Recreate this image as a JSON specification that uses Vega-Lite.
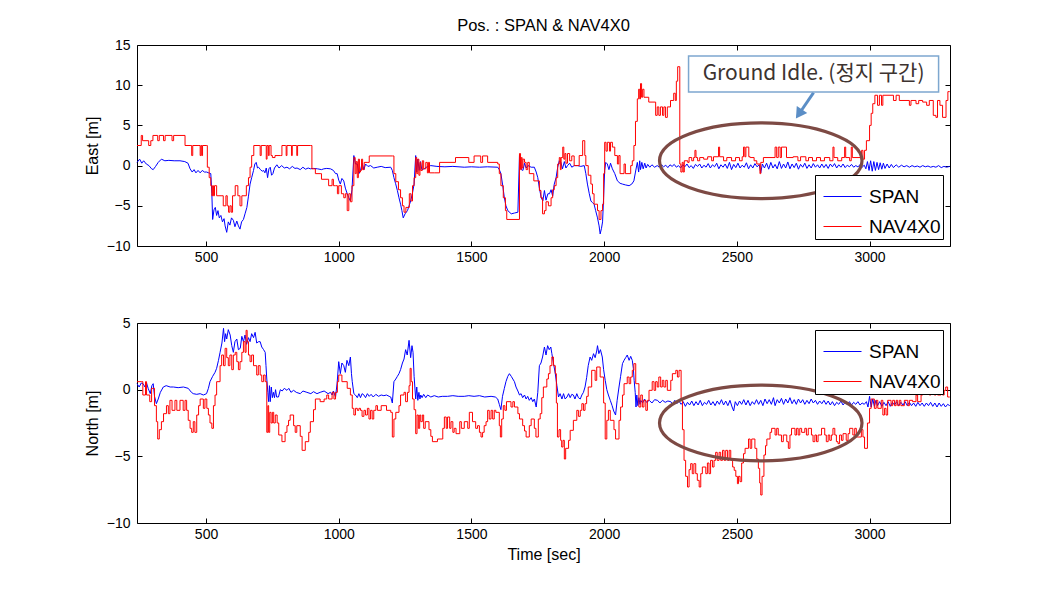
{
"$schema": "https://vega.github.io/schema/vega-lite/v6.json",
"background": "white",
"padding": {"left": 83, "top": 17, "right": 5, "bottom": 5},
"config": {
  "view": {"stroke": "black", "strokeWidth": 1},
  "font": "Liberation Sans",
  "axis": {"grid": false, "domain": false, "tickColor": "black", "tickSize": -5, "labelColor": "black", "labelFontSize": 14, "labelFont": "Liberation Sans", "titleFont": "Liberation Sans", "titleFontSize": 16, "titleFontWeight": "normal", "titleColor": "black", "labelFlush": false, "labelOverlap": false, "format": "d"}
},
"resolve": {"scale": {"color": "independent"}},
"spacing": 50,
"datasets": {
"eastSpan": [
{"t":240,"v":0.4},{"t":250,"v":0.8},{"t":258,"v":0.3},{"t":265,"v":0.6},{"t":275,"v":0.2},{"t":285,"v":0.0},{"t":295,"v":-0.4},{"t":301,"v":-0.5},{"t":310,"v":-0.1},{"t":320,"v":0.4},{"t":332,"v":0.8},{"t":345,"v":0.6},{"t":360,"v":0.65},{"t":380,"v":0.6},{"t":402,"v":0.6},{"t":420,"v":0.5},{"t":432,"v":0.3},{"t":440,"v":-0.4},{"t":448,"v":-0.8},{"t":455,"v":-0.5},{"t":462,"v":-0.9},{"t":470,"v":-0.6},{"t":478,"v":-0.9},{"t":486,"v":-0.6},{"t":494,"v":-0.8},{"t":502,"v":-0.8},{"t":510,"v":-0.9},{"t":518,"v":-1.0},{"t":522,"v":-3.5},{"t":525,"v":-6.7},{"t":530,"v":-5.5},{"t":535,"v":-5.2},{"t":540,"v":-6.2},{"t":545,"v":-5.6},{"t":550,"v":-6.5},{"t":556,"v":-6.2},{"t":562,"v":-7.0},{"t":568,"v":-6.6},{"t":572,"v":-7.5},{"t":578,"v":-8.3},{"t":584,"v":-7.0},{"t":590,"v":-7.4},{"t":596,"v":-6.5},{"t":603,"v":-6.8},{"t":609,"v":-7.6},{"t":616,"v":-6.9},{"t":622,"v":-7.5},{"t":628,"v":-7.9},{"t":634,"v":-7.0},{"t":641,"v":-6.7},{"t":647,"v":-6.0},{"t":654,"v":-5.2},{"t":660,"v":-3.8},{"t":666,"v":-2.3},{"t":672,"v":-1.5},{"t":679,"v":-0.6},{"t":684,"v":0.2},{"t":689,"v":0.4},{"t":694,"v":-0.3},{"t":698,"v":-0.2},{"t":705,"v":-0.5},{"t":712,"v":-0.7},{"t":717,"v":-0.6},{"t":722,"v":-0.9},{"t":727,"v":-0.3},{"t":732,"v":-1.5},{"t":737,"v":-0.4},{"t":742,"v":-0.2},{"t":747,"v":-1.2},{"t":752,"v":-1.0},{"t":758,"v":-0.3},{"t":767,"v":0.1},{"t":775,"v":-0.3},{"t":785,"v":0.0},{"t":795,"v":-0.3},{"t":805,"v":-0.2},{"t":815,"v":-0.4},{"t":825,"v":-0.1},{"t":835,"v":-0.35},{"t":843,"v":-0.3},{"t":855,"v":-0.5},{"t":865,"v":-0.2},{"t":875,"v":-0.45},{"t":885,"v":-0.3},{"t":893,"v":-0.4},{"t":905,"v":-0.35},{"t":920,"v":-0.4},{"t":935,"v":-0.5},{"t":944,"v":-0.4},{"t":955,"v":-0.35},{"t":969,"v":-0.4},{"t":980,"v":-0.6},{"t":988,"v":-1.0},{"t":994,"v":-1.0},{"t":1000,"v":-1.8},{"t":1006,"v":-2.3},{"t":1012,"v":-1.6},{"t":1019,"v":-1.9},{"t":1025,"v":-2.8},{"t":1032,"v":-3.5},{"t":1038,"v":-4.0},{"t":1044,"v":-4.4},{"t":1050,"v":-3.0},{"t":1057,"v":1.25},{"t":1063,"v":0.2},{"t":1070,"v":0.2},{"t":1076,"v":-1.0},{"t":1082,"v":-0.6},{"t":1088,"v":0.3},{"t":1095,"v":-0.5},{"t":1101,"v":0.2},{"t":1110,"v":-0.1},{"t":1120,"v":0.0},{"t":1132,"v":-0.3},{"t":1145,"v":-0.2},{"t":1160,"v":-0.1},{"t":1175,"v":-0.25},{"t":1196,"v":-0.2},{"t":1202,"v":-0.6},{"t":1208,"v":-1.5},{"t":1214,"v":-2.2},{"t":1221,"v":-3.1},{"t":1227,"v":-4.0},{"t":1233,"v":-4.8},{"t":1238,"v":-5.6},{"t":1243,"v":-6.5},{"t":1250,"v":-6.0},{"t":1259,"v":-5.6},{"t":1265,"v":-5.0},{"t":1271,"v":-4.4},{"t":1278,"v":-3.4},{"t":1284,"v":-2.3},{"t":1290,"v":1.25},{"t":1294,"v":-0.8},{"t":1298,"v":0.8},{"t":1303,"v":-0.6},{"t":1308,"v":0.5},{"t":1313,"v":-0.5},{"t":1322,"v":-0.4},{"t":1335,"v":-0.1},{"t":1347,"v":0.0},{"t":1370,"v":-0.1},{"t":1400,"v":-0.15},{"t":1430,"v":-0.1},{"t":1473,"v":-0.2},{"t":1500,"v":-0.15},{"t":1530,"v":-0.2},{"t":1560,"v":-0.15},{"t":1599,"v":-0.2},{"t":1605,"v":-0.5},{"t":1611,"v":-1.0},{"t":1618,"v":-2.5},{"t":1624,"v":-4.0},{"t":1630,"v":-5.0},{"t":1637,"v":-5.6},{"t":1650,"v":-6.0},{"t":1662,"v":-5.9},{"t":1675,"v":-5.8},{"t":1681,"v":1.25},{"t":1688,"v":-0.5},{"t":1694,"v":-0.6},{"t":1700,"v":0.3},{"t":1706,"v":-0.3},{"t":1713,"v":0.0},{"t":1725,"v":-0.2},{"t":1737,"v":-0.2},{"t":1744,"v":-0.8},{"t":1750,"v":-1.5},{"t":1756,"v":-2.8},{"t":1763,"v":-4.0},{"t":1769,"v":-4.4},{"t":1775,"v":-3.1},{"t":1781,"v":-4.3},{"t":1788,"v":-3.5},{"t":1794,"v":-3.5},{"t":1800,"v":-3.0},{"t":1806,"v":-3.8},{"t":1812,"v":-2.3},{"t":1819,"v":-1.5},{"t":1825,"v":-0.2},{"t":1831,"v":0.6},{"t":1837,"v":0.4},{"t":1843,"v":-0.4},{"t":1850,"v":0.5},{"t":1856,"v":-0.3},{"t":1862,"v":0.0},{"t":1870,"v":0.3},{"t":1878,"v":-0.2},{"t":1887,"v":0.0},{"t":1900,"v":0.0},{"t":1912,"v":-0.1},{"t":1925,"v":0.0},{"t":1931,"v":-1.0},{"t":1937,"v":-2.3},{"t":1944,"v":-3.5},{"t":1950,"v":-4.4},{"t":1956,"v":-4.6},{"t":1962,"v":-4.8},{"t":1968,"v":-5.6},{"t":1975,"v":-6.5},{"t":1981,"v":-7.5},{"t":1985,"v":-8.5},{"t":1990,"v":-7.8},{"t":1994,"v":-7.0},{"t":1998,"v":-4.0},{"t":2002,"v":-0.6},{"t":2006,"v":0.4},{"t":2012,"v":0.2},{"t":2018,"v":-0.5},{"t":2024,"v":0.3},{"t":2031,"v":-0.4},{"t":2040,"v":-1.0},{"t":2050,"v":-1.9},{"t":2060,"v":-2.2},{"t":2069,"v":-2.3},{"t":2080,"v":-2.4},{"t":2094,"v":-2.5},{"t":2104,"v":-2.3},{"t":2112,"v":-1.9},{"t":2118,"v":-0.8},{"t":2125,"v":0.4},{"t":2130,"v":-0.8},{"t":2134,"v":0.6},{"t":2137,"v":-0.5},{"t":2142,"v":0.4},{"t":2147,"v":-0.4},{"t":2153,"v":0.3},{"t":2158,"v":-0.3},{"t":2164,"v":0.15},{"t":2172,"v":-0.2},{"t":2180,"v":0.1},{"t":2190,"v":-0.2},
{"t":2200,"v":0.0},{"t":2208,"v":-0.2},{"t":2216,"v":0.1},{"t":2224,"v":-0.15},{"t":2232,"v":0.05},{"t":2240,"v":-0.25},{"t":2248,"v":0.1},{"t":2256,"v":-0.1},{"t":2264,"v":0.15},{"t":2272,"v":-0.2},{"t":2280,"v":0.0},{"t":2288,"v":-0.3},{"t":2296,"v":0.1},{"t":2304,"v":-0.15},{"t":2312,"v":0.2},{"t":2320,"v":-0.25},{"t":2328,"v":0.0},{"t":2336,"v":-0.35},{"t":2344,"v":0.15},{"t":2352,"v":-0.1},{"t":2360,"v":0.2},{"t":2368,"v":-0.3},{"t":2376,"v":0.05},{"t":2384,"v":-0.2},{"t":2392,"v":0.25},{"t":2400,"v":-0.3},{"t":2408,"v":0.1},{"t":2416,"v":-0.15},{"t":2424,"v":0.3},{"t":2432,"v":-0.4},{"t":2440,"v":0.1},{"t":2448,"v":-0.2},{"t":2456,"v":0.2},{"t":2464,"v":-0.35},{"t":2472,"v":0.4},{"t":2480,"v":-0.5},{"t":2488,"v":0.15},{"t":2496,"v":-0.25},{"t":2504,"v":0.3},{"t":2512,"v":-0.3},{"t":2520,"v":0.05},{"t":2528,"v":-0.2},{"t":2536,"v":0.35},{"t":2544,"v":-0.4},{"t":2552,"v":0.1},{"t":2560,"v":-0.3},{"t":2568,"v":0.25},{"t":2576,"v":-0.15},{"t":2584,"v":0.1},{"t":2590,"v":-0.9},{"t":2596,"v":0.2},{"t":2604,"v":-0.3},{"t":2612,"v":0.3},{"t":2620,"v":-0.45},{"t":2628,"v":0.4},{"t":2636,"v":-0.3},{"t":2644,"v":0.15},{"t":2652,"v":-0.4},{"t":2660,"v":0.5},{"t":2668,"v":-0.35},{"t":2676,"v":0.2},{"t":2684,"v":-0.3},{"t":2692,"v":0.45},{"t":2700,"v":-0.4},{"t":2708,"v":0.2},{"t":2716,"v":-0.25},{"t":2724,"v":0.3},{"t":2732,"v":-0.45},{"t":2740,"v":0.15},{"t":2748,"v":-0.2},{"t":2756,"v":0.3},{"t":2764,"v":-0.35},{"t":2772,"v":0.1},{"t":2780,"v":-0.3},{"t":2788,"v":0.25},{"t":2796,"v":-0.2},{"t":2804,"v":0.1},{"t":2812,"v":-0.3},{"t":2820,"v":0.2},{"t":2828,"v":-0.25},{"t":2836,"v":0.15},{"t":2844,"v":-0.35},{"t":2852,"v":0.2},{"t":2860,"v":-0.15},{"t":2868,"v":0.25},{"t":2876,"v":-0.3},{"t":2884,"v":0.1},{"t":2892,"v":-0.2},{"t":2900,"v":0.2},{"t":2908,"v":-0.25},{"t":2916,"v":0.05},{"t":2924,"v":-0.15},{"t":2932,"v":0.15},{"t":2940,"v":-0.2},{"t":2948,"v":0.0},{"t":2956,"v":-0.15},{"t":2964,"v":0.1},{"t":2972,"v":-0.2},{"t":2980,"v":0.05},{"t":2986,"v":-0.4},{"t":2992,"v":0.5},{"t":2998,"v":-0.6},{"t":3004,"v":0.6},{"t":3010,"v":-0.7},{"t":3016,"v":0.5},{"t":3022,"v":-0.6},{"t":3028,"v":0.4},{"t":3034,"v":-0.5},{"t":3040,"v":0.35},{"t":3046,"v":-0.45},{"t":3052,"v":0.3},{"t":3058,"v":-0.35},{"t":3066,"v":0.2},{"t":3074,"v":-0.3},{"t":3082,"v":0.15},{"t":3090,"v":-0.25},{"t":3100,"v":0.1},{"t":3110,"v":-0.2},{"t":3120,"v":0.05},{"t":3130,"v":-0.15},{"t":3140,"v":0.0},{"t":3150,"v":-0.2},{"t":3160,"v":0.0},{"t":3170,"v":-0.15},{"t":3180,"v":-0.05},{"t":3190,"v":-0.2},{"t":3200,"v":0.0},{"t":3210,"v":-0.15},{"t":3220,"v":-0.05},{"t":3230,"v":-0.2},{"t":3240,"v":-0.1},{"t":3250,"v":-0.2},{"t":3260,"v":0.0},{"t":3270,"v":-0.25},{"t":3280,"v":-0.1},{"t":3290,"v":-0.2},{"t":3302,"v":-0.1}
],
"eastNav": [
{"t":240,"v":2.5},{"t":256,"v":3.75},{"t":261,"v":3.1},{"t":284,"v":2.5},{"t":292,"v":3.1},{"t":300,"v":3.75},{"t":318,"v":3.1},{"t":324,"v":3.75},{"t":340,"v":3.1},{"t":346,"v":3.75},{"t":372,"v":3.1},{"t":378,"v":3.75},{"t":421,"v":2.5},{"t":440,"v":2.5},{"t":446,"v":1.25},{"t":450,"v":2.5},{"t":470,"v":2.5},{"t":478,"v":1.25},{"t":481,"v":2.5},{"t":484,"v":1.25},{"t":487,"v":2.5},{"t":503,"v":2.5},{"t":505,"v":-0.2},{"t":512,"v":-1.5},{"t":518,"v":-2.5},{"t":522,"v":-3.75},{"t":525,"v":-2.5},{"t":528,"v":-3.75},{"t":532,"v":-2.5},{"t":540,"v":-3.75},{"t":560,"v":-3.75},{"t":565,"v":-5.0},{"t":575,"v":-3.75},{"t":580,"v":-5.0},{"t":585,"v":-5.8},{"t":590,"v":-5.0},{"t":595,"v":-5.8},{"t":600,"v":-3.75},{"t":610,"v":-2.5},{"t":620,"v":-3.75},{"t":628,"v":-5.0},{"t":635,"v":-3.75},{"t":647,"v":-3.75},{"t":652,"v":-2.5},{"t":660,"v":-1.5},{"t":666,"v":-0.2},{"t":672,"v":1.25},{"t":680,"v":2.5},{"t":700,"v":2.5},{"t":704,"v":1.25},{"t":708,"v":2.5},{"t":725,"v":2.5},{"t":727,"v":0.8},{"t":730,"v":2.5},{"t":735,"v":1.25},{"t":738,"v":2.5},{"t":745,"v":1.25},{"t":750,"v":1.0},{"t":760,"v":1.25},{"t":780,"v":1.25},{"t":786,"v":2.5},{"t":800,"v":2.5},{"t":802,"v":1.25},{"t":805,"v":2.5},{"t":820,"v":2.5},{"t":822,"v":1.25},{"t":825,"v":2.5},{"t":840,"v":2.5},{"t":842,"v":1.25},{"t":845,"v":2.5},{"t":893,"v":2.5},{"t":899,"v":-0.4},{"t":912,"v":-1.0},{"t":930,"v":-1.0},{"t":935,"v":-1.7},{"t":956,"v":-1.7},{"t":962,"v":-2.5},{"t":975,"v":-1.7},{"t":980,"v":-2.5},{"t":988,"v":-2.5},{"t":995,"v":-3.5},{"t":1000,"v":-2.5},{"t":1010,"v":-3.5},{"t":1019,"v":-4.0},{"t":1025,"v":-3.5},{"t":1032,"v":-5.6},{"t":1038,"v":-3.5},{"t":1044,"v":-4.5},{"t":1050,"v":-2.5},{"t":1057,"v":1.0},{"t":1062,"v":-1.0},{"t":1066,"v":0.5},{"t":1070,"v":-1.5},{"t":1074,"v":0.8},{"t":1078,"v":-0.8},{"t":1082,"v":-0.6},{"t":1086,"v":0.8},{"t":1090,"v":-0.5},{"t":1096,"v":0.4},{"t":1107,"v":0.4},{"t":1115,"v":1.2},{"t":1202,"v":1.2},{"t":1208,"v":-1.0},{"t":1215,"v":-2.0},{"t":1225,"v":-3.0},{"t":1233,"v":-4.0},{"t":1240,"v":-5.0},{"t":1246,"v":-5.8},{"t":1253,"v":-5.2},{"t":1266,"v":-3.5},{"t":1272,"v":-4.4},{"t":1278,"v":-2.5},{"t":1284,"v":-1.5},{"t":1290,"v":1.0},{"t":1294,"v":-1.0},{"t":1298,"v":0.8},{"t":1302,"v":-1.2},{"t":1306,"v":0.4},{"t":1309,"v":-0.6},{"t":1315,"v":0.6},{"t":1320,"v":-0.4},{"t":1328,"v":0.4},{"t":1334,"v":-0.9},{"t":1338,"v":0.4},{"t":1342,"v":-0.9},{"t":1360,"v":-0.9},{"t":1380,"v":0.4},{"t":1440,"v":1.0},{"t":1490,"v":0.4},{"t":1510,"v":1.2},{"t":1535,"v":0.4},{"t":1542,"v":1.2},{"t":1561,"v":0.4},{"t":1599,"v":0.2},{"t":1605,"v":-1.0},{"t":1611,"v":-2.5},{"t":1620,"v":-4.0},{"t":1628,"v":-5.6},{"t":1633,"v":-6.7},{"t":1681,"v":1.5},{"t":1685,"v":-0.5},{"t":1688,"v":1.0},{"t":1691,"v":-0.3},{"t":1694,"v":0.8},{"t":1700,"v":0.4},{"t":1706,"v":-0.5},{"t":1712,"v":0.4},{"t":1718,"v":-1.0},{"t":1735,"v":-1.9},{"t":1756,"v":-3.1},{"t":1762,"v":-4.0},{"t":1768,"v":-6.0},{"t":1775,"v":-5.6},{"t":1781,"v":-4.5},{"t":1790,"v":-5.0},{"t":1800,"v":-4.0},{"t":1806,"v":-3.0},{"t":1812,"v":-2.5},{"t":1819,"v":-1.5},{"t":1825,"v":0.2},{"t":1831,"v":1.0},{"t":1835,"v":-0.5},{"t":1838,"v":1.0},{"t":1844,"v":2.3},{"t":1848,"v":0.8},{"t":1852,"v":1.5},{"t":1856,"v":0.3},{"t":1862,"v":1.5},{"t":1870,"v":0.6},{"t":1878,"v":1.2},{"t":1887,"v":0.0},{"t":1906,"v":1.25},{"t":1919,"v":3.1},{"t":1927,"v":1.25},{"t":1931,"v":0.0},{"t":1940,"v":-1.2},{"t":1950,"v":-2.3},{"t":1956,"v":-3.5},{"t":1962,"v":-4.8},{"t":1975,"v":-5.6},{"t":1981,"v":-6.7},{"t":1988,"v":-5.6},{"t":1994,"v":-4.8},{"t":1998,"v":-1.0},{"t":2002,"v":2.9},{"t":2007,"v":1.8},{"t":2012,"v":2.9},{"t":2020,"v":1.8},{"t":2024,"v":2.9},{"t":2031,"v":2.3},{"t":2040,"v":1.25},{"t":2050,"v":0.2},{"t":2055,"v":1.25},{"t":2060,"v":-1.0},{"t":2075,"v":0.2},{"t":2080,"v":-1.0},{"t":2100,"v":0.0},{"t":2106,"v":0.6},{"t":2112,"v":2.5},{"t":2118,"v":5.5},{"t":2125,"v":8.3},{"t":2130,"v":9.5},{"t":2134,"v":8.3},{"t":2137,"v":10.2},{"t":2141,"v":8.5},{"t":2145,"v":9.5},{"t":2150,"v":8.5},{"t":2168,"v":7.9},{"t":2194,"v":6.25},{"t":2200,"v":7.3},{"t":2206,"v":6.25},{"t":2212,"v":7.3},{"t":2220,"v":6.25},{"t":2225,"v":7.3},{"t":2231,"v":6.0},{"t":2238,"v":7.3},{"t":2250,"v":8.1},{"t":2262,"v":9.0},{"t":2268,"v":8.1},{"t":2272,"v":10.5},{"t":2277,"v":12.3},{"t":2285,"v":0.2},{"t":2289,"v":-0.8},{"t":2294,"v":0.4},{"t":2298,"v":-0.8},{"t":2302,"v":0.6},{"t":2315,"v":0.4},{"t":2320,"v":1.0},{"t":2330,"v":0.6},{"t":2337,"v":1.0},{"t":2342,"v":1.9},{"t":2346,"v":1.0},{"t":2352,"v":0.6},{"t":2360,"v":1.0},{"t":2375,"v":0.8},{"t":2390,"v":1.1},{"t":2405,"v":0.6},{"t":2412,"v":1.1},{"t":2431,"v":2.3},{"t":2435,"v":1.1},{"t":2450,"v":0.6},{"t":2462,"v":1.0},{"t":2480,"v":0.6},{"t":2495,"v":1.0},{"t":2510,"v":0.6},{"t":2520,"v":1.1},{"t":2525,"v":2.3},{"t":2530,"v":1.1},{"t":2534,"v":2.3},{"t":2545,"v":1.1},{"t":2550,"v":1.0},{"t":2565,"v":0.6},{"t":2575,"v":0.2},{"t":2587,"v":-1.0},{"t":2590,"v":0.4},{"t":2600,"v":1.0},{"t":2644,"v":2.3},{"t":2650,"v":1.0},{"t":2656,"v":2.3},{"t":2663,"v":1.0},{"t":2668,"v":2.3},{"t":2687,"v":1.0},{"t":2712,"v":1.1},{"t":2730,"v":0.6},{"t":2740,"v":1.1},{"t":2760,"v":0.6},{"t":2770,"v":1.0},{"t":2785,"v":0.6},{"t":2800,"v":1.0},{"t":2815,"v":0.6},{"t":2830,"v":1.0},{"t":2850,"v":0.6},{"t":2862,"v":2.3},{"t":2866,"v":1.0},{"t":2880,"v":0.6},{"t":2895,"v":1.0},{"t":2906,"v":2.3},{"t":2910,"v":1.0},{"t":2925,"v":0.6},{"t":2931,"v":2.3},{"t":2935,"v":1.0},{"t":2970,"v":1.9},{"t":2975,"v":0.8},{"t":2981,"v":1.9},{"t":2988,"v":3.1},{"t":3000,"v":5.0},{"t":3006,"v":6.5},{"t":3012,"v":7.7},{"t":3020,"v":8.75},{"t":3030,"v":7.5},{"t":3037,"v":8.75},{"t":3045,"v":7.5},{"t":3050,"v":8.75},{"t":3090,"v":8.1},{"t":3100,"v":8.75},{"t":3112,"v":8.1},{"t":3150,"v":7.5},{"t":3156,"v":8.1},{"t":3175,"v":7.7},{"t":3185,"v":8.1},{"t":3200,"v":7.9},{"t":3215,"v":7.5},{"t":3225,"v":8.1},{"t":3240,"v":6.25},{"t":3250,"v":6.0},{"t":3256,"v":8.1},{"t":3265,"v":7.5},{"t":3275,"v":6.0},{"t":3288,"v":8.1},{"t":3295,"v":9.2},{"t":3302,"v":9.2}
],
"northSpan": [
{"t":240,"v":0.45},{"t":248,"v":0.2},{"t":256,"v":0.5},{"t":263,"v":0.45},{"t":270,"v":0.2},{"t":276,"v":0.5},{"t":282,"v":0.1},{"t":290,"v":-0.3},{"t":296,"v":0.3},{"t":301,"v":0.45},{"t":306,"v":-0.5},{"t":313,"v":-1.05},{"t":320,"v":-0.7},{"t":328,"v":-0.2},{"t":339,"v":0.2},{"t":350,"v":0.3},{"t":365,"v":0.2},{"t":377,"v":0.2},{"t":395,"v":0.15},{"t":415,"v":0.2},{"t":433,"v":0.1},{"t":445,"v":-0.2},{"t":452,"v":-0.3},{"t":465,"v":-0.35},{"t":478,"v":-0.3},{"t":490,"v":-0.4},{"t":502,"v":-0.3},{"t":509,"v":0.1},{"t":515,"v":0.6},{"t":525,"v":1.0},{"t":534,"v":1.3},{"t":540,"v":1.6},{"t":547,"v":2.2},{"t":553,"v":2.8},{"t":560,"v":3.5},{"t":566,"v":4.6},{"t":570,"v":3.6},{"t":574,"v":4.2},{"t":578,"v":3.8},{"t":584,"v":4.5},{"t":591,"v":4.1},{"t":597,"v":3.3},{"t":603,"v":2.8},{"t":609,"v":3.6},{"t":616,"v":3.8},{"t":622,"v":3.0},{"t":629,"v":3.1},{"t":635,"v":4.0},{"t":641,"v":3.6},{"t":647,"v":4.1},{"t":653,"v":3.4},{"t":660,"v":3.9},{"t":666,"v":3.6},{"t":672,"v":4.2},{"t":679,"v":3.9},{"t":685,"v":4.3},{"t":691,"v":3.5},{"t":698,"v":3.6},{"t":704,"v":3.6},{"t":710,"v":3.2},{"t":717,"v":3.0},{"t":723,"v":2.8},{"t":726,"v":1.8},{"t":729,"v":0.8},{"t":733,"v":-0.2},{"t":736,"v":-0.9},{"t":739,"v":0.3},{"t":742,"v":-0.9},{"t":746,"v":0.2},{"t":750,"v":-0.6},{"t":754,"v":-0.2},{"t":758,"v":-0.6},{"t":762,"v":0.0},{"t":766,"v":-0.55},{"t":773,"v":-0.55},{"t":780,"v":0.0},{"t":787,"v":-0.1},{"t":795,"v":0.1},{"t":805,"v":-0.05},{"t":812,"v":0.1},{"t":820,"v":-0.2},{"t":830,"v":-0.05},{"t":840,"v":-0.2},{"t":855,"v":-0.3},{"t":865,"v":-0.1},{"t":880,"v":-0.2},{"t":895,"v":-0.3},{"t":905,"v":-0.15},{"t":918,"v":-0.3},{"t":930,"v":-0.2},{"t":945,"v":-0.1},{"t":960,"v":-0.3},{"t":969,"v":-0.2},{"t":975,"v":-0.4},{"t":980,"v":-0.1},{"t":988,"v":-0.55},{"t":994,"v":0.5},{"t":1000,"v":2.1},{"t":1006,"v":1.2},{"t":1012,"v":2.0},{"t":1019,"v":1.8},{"t":1025,"v":1.3},{"t":1031,"v":2.2},{"t":1038,"v":1.8},{"t":1044,"v":2.45},{"t":1048,"v":1.2},{"t":1051,"v":0.6},{"t":1057,"v":-0.3},{"t":1063,"v":-0.4},{"t":1070,"v":-0.6},{"t":1076,"v":-0.3},{"t":1082,"v":-0.6},{"t":1088,"v":-0.3},{"t":1095,"v":-0.4},{"t":1101,"v":-0.6},{"t":1108,"v":-0.3},{"t":1115,"v":-0.5},{"t":1122,"v":-0.35},{"t":1130,"v":-0.55},{"t":1140,"v":-0.35},{"t":1150,"v":-0.5},{"t":1160,"v":-0.4},{"t":1170,"v":-0.45},{"t":1180,"v":-0.4},{"t":1190,"v":-0.5},{"t":1196,"v":-0.55},{"t":1202,"v":-1.0},{"t":1208,"v":0.6},{"t":1215,"v":0.8},{"t":1221,"v":1.0},{"t":1227,"v":1.2},{"t":1233,"v":1.5},{"t":1240,"v":2.0},{"t":1246,"v":2.3},{"t":1252,"v":3.0},{"t":1258,"v":2.6},{"t":1265,"v":3.7},{"t":1271,"v":2.4},{"t":1276,"v":3.3},{"t":1280,"v":2.8},{"t":1284,"v":1.0},{"t":1290,"v":-0.7},{"t":1294,"v":0.2},{"t":1298,"v":-0.8},{"t":1302,"v":-0.2},{"t":1306,"v":-0.7},{"t":1309,"v":-0.4},{"t":1314,"v":-0.6},{"t":1320,"v":-0.35},{"t":1328,"v":-0.6},{"t":1335,"v":-0.4},{"t":1347,"v":-0.55},{"t":1360,"v":-0.45},{"t":1375,"v":-0.55},{"t":1390,"v":-0.5},{"t":1410,"v":-0.5},{"t":1430,"v":-0.45},{"t":1450,"v":-0.5},{"t":1473,"v":-0.5},{"t":1490,"v":-0.45},{"t":1510,"v":-0.5},{"t":1530,"v":-0.45},{"t":1550,"v":-0.55},{"t":1574,"v":-0.5},{"t":1590,"v":-0.55},{"t":1599,"v":-0.7},{"t":1605,"v":-1.1},{"t":1611,"v":-1.5},{"t":1617,"v":-0.5},{"t":1624,"v":0.1},{"t":1630,"v":0.6},{"t":1637,"v":1.0},{"t":1643,"v":1.2},{"t":1650,"v":1.0},{"t":1656,"v":0.8},{"t":1662,"v":0.6},{"t":1668,"v":0.2},{"t":1675,"v":-0.1},{"t":1681,"v":-0.4},{"t":1687,"v":-0.3},{"t":1693,"v":-0.6},{"t":1700,"v":-0.4},{"t":1706,"v":-0.7},{"t":1712,"v":-0.5},{"t":1718,"v":-0.8},{"t":1725,"v":-0.6},{"t":1731,"v":-0.9},{"t":1737,"v":-0.7},{"t":1744,"v":-1.3},{"t":1750,"v":-0.2},{"t":1756,"v":1.8},{"t":1762,"v":2.0},{"t":1768,"v":2.45},{"t":1775,"v":3.2},{"t":1781,"v":2.6},{"t":1787,"v":3.3},{"t":1793,"v":3.0},{"t":1799,"v":3.2},{"t":1803,"v":2.7},{"t":1809,"v":2.0},{"t":1816,"v":1.2},{"t":1822,"v":0.3},{"t":1828,"v":-0.55},{"t":1834,"v":-0.3},{"t":1841,"v":-0.7},{"t":1847,"v":-0.3},{"t":1853,"v":-0.7},{"t":1860,"v":-0.55},{"t":1866,"v":-0.3},{"t":1872,"v":-0.6},{"t":1878,"v":-0.35},{"t":1884,"v":-0.4},{"t":1890,"v":-0.7},{"t":1897,"v":-0.3},{"t":1903,"v":-0.6},{"t":1910,"v":-0.7},{"t":1916,"v":-0.4},{"t":1922,"v":-0.2},{"t":1928,"v":0.2},{"t":1934,"v":0.9},{"t":1940,"v":1.8},{"t":1947,"v":2.45},{"t":1953,"v":2.2},{"t":1960,"v":2.7},{"t":1966,"v":2.4},{"t":1972,"v":2.9},{"t":1975,"v":3.3},{"t":1980,"v":2.7},{"t":1986,"v":3.0},{"t":1993,"v":2.45},{"t":1998,"v":1.5},{"t":2004,"v":0.7},{"t":2010,"v":0.0},{"t":2016,"v":-0.4},{"t":2023,"v":-0.8},{"t":2030,"v":-1.2},{"t":2036,"v":-1.6},{"t":2043,"v":-1.9},{"t":2049,"v":-0.8},{"t":2056,"v":0.2},{"t":2062,"v":1.0},{"t":2069,"v":1.95},{"t":2075,"v":2.2},{"t":2081,"v":2.4},{"t":2087,"v":2.6},{"t":2094,"v":2.2},{"t":2100,"v":2.5},{"t":2106,"v":2.2},{"t":2110,"v":1.6},{"t":2113,"v":0.7},{"t":2117,"v":-0.2},{"t":2120,"v":-1.3},{"t":2123,"v":-0.4},{"t":2127,"v":-1.2},{"t":2131,"v":-0.6},{"t":2135,"v":-1.1},{"t":2138,"v":-0.8},{"t":2145,"v":-1.0},{"t":2152,"v":-0.7},{"t":2160,"v":-0.95},{"t":2170,"v":-0.8},{"t":2180,"v":-1.0},{"t":2190,"v":-0.75},{"t":2201,"v":-0.8},{"t":2210,"v":-1.0},{"t":2220,"v":-0.8},{"t":2230,"v":-0.95},{"t":2240,"v":-0.85},{"t":2251,"v":-0.9},
{"t":2258,"v":-1.1},{"t":2266,"v":-0.8},{"t":2274,"v":-1.05},{"t":2282,"v":-0.85},{"t":2290,"v":-1.1},{"t":2298,"v":-0.9},{"t":2306,"v":-1.25},{"t":2314,"v":-0.95},{"t":2322,"v":-1.15},{"t":2330,"v":-0.85},{"t":2338,"v":-1.2},{"t":2346,"v":-0.9},{"t":2354,"v":-1.15},{"t":2362,"v":-0.8},{"t":2370,"v":-1.2},{"t":2378,"v":-0.95},{"t":2386,"v":-1.1},{"t":2394,"v":-0.8},{"t":2402,"v":-1.15},{"t":2410,"v":-0.9},{"t":2418,"v":-1.2},{"t":2426,"v":-0.85},{"t":2434,"v":-1.1},{"t":2442,"v":-0.75},{"t":2450,"v":-1.15},{"t":2458,"v":-0.85},{"t":2466,"v":-1.2},{"t":2474,"v":-0.8},{"t":2482,"v":-1.3},{"t":2488,"v":-1.6},{"t":2494,"v":-0.9},{"t":2502,"v":-1.2},{"t":2510,"v":-0.85},{"t":2518,"v":-1.1},{"t":2526,"v":-0.75},{"t":2534,"v":-1.15},{"t":2542,"v":-0.8},{"t":2550,"v":-1.2},{"t":2558,"v":-0.9},{"t":2566,"v":-1.1},{"t":2574,"v":-0.75},{"t":2582,"v":-1.1},{"t":2590,"v":-0.8},{"t":2598,"v":-1.2},{"t":2606,"v":-0.7},{"t":2614,"v":-1.05},{"t":2622,"v":-0.75},{"t":2630,"v":-1.1},{"t":2638,"v":-0.6},{"t":2644,"v":-1.2},{"t":2652,"v":-0.75},{"t":2660,"v":-1.0},{"t":2668,"v":-0.65},{"t":2676,"v":-1.1},{"t":2684,"v":-0.7},{"t":2692,"v":-1.0},{"t":2700,"v":-0.6},{"t":2708,"v":-1.05},{"t":2716,"v":-0.75},{"t":2724,"v":-1.1},{"t":2732,"v":-0.7},{"t":2740,"v":-1.0},{"t":2748,"v":-0.75},{"t":2756,"v":-1.1},{"t":2764,"v":-0.8},{"t":2772,"v":-1.05},{"t":2780,"v":-0.7},{"t":2788,"v":-1.0},{"t":2796,"v":-0.8},{"t":2804,"v":-1.1},{"t":2812,"v":-0.85},{"t":2820,"v":-1.05},{"t":2828,"v":-0.8},{"t":2836,"v":-1.1},{"t":2844,"v":-0.85},{"t":2852,"v":-1.15},{"t":2860,"v":-0.9},{"t":2868,"v":-1.2},{"t":2876,"v":-0.95},{"t":2884,"v":-1.1},{"t":2892,"v":-0.85},{"t":2900,"v":-1.15},{"t":2908,"v":-0.95},{"t":2916,"v":-1.1},{"t":2924,"v":-0.9},{"t":2932,"v":-1.15},{"t":2940,"v":-0.95},{"t":2948,"v":-1.1},{"t":2956,"v":-0.9},{"t":2964,"v":-1.15},{"t":2972,"v":-1.0},{"t":2980,"v":-1.1},{"t":2988,"v":-0.9},{"t":2994,"v":-1.3},{"t":3000,"v":-0.5},{"t":3006,"v":-1.3},{"t":3012,"v":-0.7},{"t":3018,"v":-1.25},{"t":3024,"v":-0.8},{"t":3030,"v":-1.2},{"t":3038,"v":-0.9},{"t":3046,"v":-1.25},{"t":3054,"v":-0.95},{"t":3062,"v":-1.2},{"t":3070,"v":-0.9},{"t":3078,"v":-1.25},{"t":3086,"v":-0.95},{"t":3094,"v":-1.15},{"t":3102,"v":-0.9},{"t":3110,"v":-1.2},{"t":3118,"v":-0.95},{"t":3126,"v":-1.15},{"t":3134,"v":-0.9},{"t":3142,"v":-1.2},{"t":3150,"v":-0.95},{"t":3158,"v":-1.2},{"t":3166,"v":-1.0},{"t":3174,"v":-1.25},{"t":3182,"v":-0.95},{"t":3190,"v":-1.2},{"t":3198,"v":-1.0},{"t":3206,"v":-1.25},{"t":3214,"v":-1.0},{"t":3222,"v":-1.2},{"t":3230,"v":-0.95},{"t":3238,"v":-1.25},{"t":3246,"v":-1.0},{"t":3254,"v":-1.3},{"t":3262,"v":-1.0},{"t":3270,"v":-1.25},{"t":3278,"v":-1.05},{"t":3286,"v":-1.3},{"t":3294,"v":-1.1},{"t":3302,"v":-1.2}
],
"northNav": [
{"t":240,"v":0.6},{"t":258,"v":0.6},{"t":262,"v":-0.4},{"t":272,"v":0.6},{"t":276,"v":-0.4},{"t":288,"v":-0.9},{"t":295,"v":0.1},{"t":306,"v":-1.2},{"t":313,"v":-2.4},{"t":318,"v":-3.7},{"t":324,"v":-3.0},{"t":332,"v":-2.4},{"t":340,"v":-1.8},{"t":351,"v":-1.2},{"t":358,"v":-1.8},{"t":364,"v":-0.8},{"t":372,"v":-1.55},{"t":383,"v":-0.8},{"t":390,"v":-1.55},{"t":402,"v":-0.8},{"t":414,"v":-1.55},{"t":421,"v":-0.8},{"t":427,"v":-1.55},{"t":433,"v":-2.3},{"t":440,"v":-2.9},{"t":446,"v":-3.2},{"t":452,"v":-2.4},{"t":458,"v":-3.2},{"t":465,"v":-1.9},{"t":472,"v":-1.2},{"t":478,"v":-0.7},{"t":490,"v":-1.4},{"t":496,"v":-0.7},{"t":503,"v":-1.4},{"t":509,"v":-1.9},{"t":515,"v":-2.5},{"t":522,"v":-2.9},{"t":528,"v":-1.2},{"t":534,"v":-0.4},{"t":540,"v":0.6},{"t":553,"v":1.8},{"t":559,"v":2.6},{"t":566,"v":1.8},{"t":572,"v":3.1},{"t":578,"v":2.4},{"t":584,"v":1.8},{"t":590,"v":2.6},{"t":597,"v":1.5},{"t":603,"v":2.6},{"t":610,"v":2.8},{"t":616,"v":2.1},{"t":622,"v":1.5},{"t":628,"v":2.1},{"t":635,"v":2.8},{"t":641,"v":3.6},{"t":647,"v":2.8},{"t":651,"v":4.45},{"t":655,"v":3.6},{"t":660,"v":2.6},{"t":666,"v":2.1},{"t":672,"v":2.6},{"t":679,"v":1.8},{"t":691,"v":1.1},{"t":697,"v":1.8},{"t":704,"v":1.1},{"t":710,"v":0.6},{"t":717,"v":1.1},{"t":723,"v":0.6},{"t":729,"v":-3.2},{"t":733,"v":-1.2},{"t":736,"v":-3.2},{"t":740,"v":-1.7},{"t":745,"v":-2.5},{"t":750,"v":-1.7},{"t":755,"v":-2.5},{"t":761,"v":-1.9},{"t":768,"v":-2.5},{"t":774,"v":-3.4},{"t":786,"v":-3.9},{"t":798,"v":-3.2},{"t":805,"v":-2.7},{"t":811,"v":-2.3},{"t":817,"v":-1.9},{"t":830,"v":-2.7},{"t":836,"v":-3.2},{"t":842,"v":-2.7},{"t":855,"v":-3.5},{"t":862,"v":-4.55},{"t":874,"v":-3.9},{"t":887,"v":-3.2},{"t":893,"v":-2.4},{"t":905,"v":-1.5},{"t":912,"v":-0.7},{"t":930,"v":-0.9},{"t":945,"v":-0.7},{"t":955,"v":-0.4},{"t":962,"v":-0.7},{"t":975,"v":-0.2},{"t":982,"v":-0.7},{"t":988,"v":-0.2},{"t":995,"v":0.6},{"t":1000,"v":1.1},{"t":1012,"v":0.6},{"t":1032,"v":0.1},{"t":1044,"v":-0.4},{"t":1051,"v":-1.4},{"t":1057,"v":-1.9},{"t":1063,"v":-1.4},{"t":1070,"v":-1.55},{"t":1076,"v":-1.4},{"t":1082,"v":-1.55},{"t":1088,"v":-2.0},{"t":1095,"v":-1.55},{"t":1101,"v":-1.9},{"t":1108,"v":-1.4},{"t":1114,"v":-2.2},{"t":1120,"v":-1.55},{"t":1126,"v":-2.2},{"t":1132,"v":-1.55},{"t":1140,"v":-1.2},{"t":1146,"v":-1.55},{"t":1160,"v":-1.2},{"t":1180,"v":-1.55},{"t":1196,"v":-1.7},{"t":1202,"v":-3.55},{"t":1208,"v":-2.2},{"t":1215,"v":-1.7},{"t":1227,"v":-1.2},{"t":1233,"v":-0.4},{"t":1246,"v":-0.2},{"t":1252,"v":-0.9},{"t":1259,"v":-0.2},{"t":1265,"v":0.3},{"t":1269,"v":1.6},{"t":1273,"v":0.6},{"t":1278,"v":-0.7},{"t":1284,"v":-1.5},{"t":1290,"v":-3.3},{"t":1295,"v":-1.9},{"t":1300,"v":-2.9},{"t":1305,"v":-1.9},{"t":1309,"v":-2.4},{"t":1315,"v":-1.9},{"t":1320,"v":-2.9},{"t":1326,"v":-2.4},{"t":1340,"v":-3.0},{"t":1347,"v":-3.5},{"t":1353,"v":-3.9},{"t":1372,"v":-3.7},{"t":1392,"v":-2.9},{"t":1398,"v":-2.05},{"t":1405,"v":-2.9},{"t":1410,"v":-2.05},{"t":1418,"v":-2.9},{"t":1423,"v":-2.4},{"t":1430,"v":-3.2},{"t":1435,"v":-2.9},{"t":1442,"v":-3.3},{"t":1456,"v":-2.4},{"t":1462,"v":-2.9},{"t":1473,"v":-2.4},{"t":1486,"v":-2.9},{"t":1492,"v":-1.7},{"t":1504,"v":-2.4},{"t":1516,"v":-2.9},{"t":1523,"v":-2.7},{"t":1530,"v":-3.2},{"t":1536,"v":-3.55},{"t":1542,"v":-3.2},{"t":1548,"v":-2.7},{"t":1555,"v":-2.4},{"t":1561,"v":-1.55},{"t":1567,"v":-2.2},{"t":1574,"v":-1.55},{"t":1580,"v":-2.2},{"t":1586,"v":-1.55},{"t":1592,"v":-1.7},{"t":1605,"v":-2.7},{"t":1609,"v":-3.55},{"t":1614,"v":-2.2},{"t":1620,"v":-1.2},{"t":1626,"v":-1.55},{"t":1632,"v":-0.9},{"t":1649,"v":-1.3},{"t":1656,"v":-0.9},{"t":1662,"v":-1.3},{"t":1675,"v":-1.8},{"t":1681,"v":-2.2},{"t":1693,"v":-2.7},{"t":1700,"v":-3.1},{"t":1706,"v":-3.55},{"t":1718,"v":-2.7},{"t":1725,"v":-2.2},{"t":1737,"v":-2.9},{"t":1743,"v":-3.55},{"t":1752,"v":-2.2},{"t":1759,"v":-1.8},{"t":1765,"v":-0.6},{"t":1771,"v":0.2},{"t":1784,"v":0.8},{"t":1790,"v":1.2},{"t":1796,"v":1.8},{"t":1803,"v":2.45},{"t":1809,"v":1.8},{"t":1816,"v":1.2},{"t":1820,"v":-1.0},{"t":1824,"v":-3.55},{"t":1830,"v":-3.0},{"t":1836,"v":-3.8},{"t":1840,"v":-4.3},{"t":1845,"v":-3.8},{"t":1850,"v":-5.2},{"t":1855,"v":-4.4},{"t":1866,"v":-3.8},{"t":1872,"v":-3.05},{"t":1884,"v":-2.3},{"t":1897,"v":-1.55},{"t":1903,"v":-2.0},{"t":1910,"v":-1.55},{"t":1916,"v":-1.05},{"t":1922,"v":-1.55},{"t":1928,"v":-1.05},{"t":1934,"v":-0.5},{"t":1940,"v":0.2},{"t":1953,"v":1.45},{"t":1966,"v":0.7},{"t":1972,"v":1.7},{"t":1985,"v":0.95},{"t":1998,"v":-1.0},{"t":2004,"v":-3.7},{"t":2010,"v":-2.3},{"t":2016,"v":-1.55},{"t":2023,"v":-2.3},{"t":2037,"v":-3.0},{"t":2043,"v":-3.7},{"t":2056,"v":-2.3},{"t":2062,"v":-1.3},{"t":2069,"v":-0.4},{"t":2075,"v":0.45},{"t":2087,"v":0.95},{"t":2094,"v":0.45},{"t":2100,"v":0.95},{"t":2106,"v":1.45},{"t":2112,"v":1.95},{"t":2119,"v":0.45},{"t":2131,"v":-1.3},{"t":2138,"v":-0.4},{"t":2144,"v":-1.3},{"t":2150,"v":-0.8},{"t":2157,"v":-1.55},{"t":2163,"v":-0.8},{"t":2169,"v":-0.05},{"t":2181,"v":0.6},{"t":2188,"v":-0.05},{"t":2194,"v":0.6},{"t":2200,"v":0.2},{"t":2206,"v":0.95},{"t":2213,"v":0.2},{"t":2219,"v":0.7},{"t":2225,"v":0.2},{"t":2232,"v":0.7},{"t":2238,"v":-0.05},{"t":2251,"v":0.7},{"t":2257,"v":1.2},{"t":2270,"v":1.45},{"t":2276,"v":0.95},{"t":2282,"v":1.45},{"t":2290,"v":-0.8},{"t":2295,"v":-3.0},{"t":2301,"v":-5.3},{"t":2307,"v":-6.5},{"t":2314,"v":-7.3},{"t":2320,"v":-6.0},{"t":2326,"v":-5.55},{"t":2332,"v":-6.3},{"t":2338,"v":-5.55},{"t":2345,"v":-6.3},{"t":2351,"v":-6.8},{"t":2358,"v":-7.3},{"t":2364,"v":-6.3},{"t":2370,"v":-5.8},{"t":2383,"v":-6.3},{"t":2389,"v":-5.5},{"t":2395,"v":-6.3},{"t":2401,"v":-5.3},{"t":2408,"v":-5.8},{"t":2414,"v":-5.3},{"t":2420,"v":-4.7},{"t":2426,"v":-5.3},{"t":2433,"v":-4.7},{"t":2439,"v":-5.3},{"t":2446,"v":-4.55},{"t":2452,"v":-5.3},{"t":2458,"v":-4.55},{"t":2465,"v":-5.3},{"t":2471,"v":-4.55},{"t":2477,"v":-5.3},{"t":2484,"v":-5.8},{"t":2490,"v":-6.05},{"t":2496,"v":-6.5},{"t":2502,"v":-7.05},{"t":2506,"v":-6.5},{"t":2512,"v":-6.9},{"t":2518,"v":-5.5},{"t":2525,"v":-4.8},{"t":2531,"v":-4.4},{"t":2544,"v":-3.7},{"t":2550,"v":-4.4},{"t":2556,"v":-3.7},{"t":2568,"v":-4.4},{"t":2575,"v":-5.2},{"t":2581,"v":-5.9},{"t":2586,"v":-7.0},{"t":2590,"v":-7.9},{"t":2595,"v":-6.5},{"t":2602,"v":-4.9},{"t":2608,"v":-4.2},{"t":2613,"v":-3.7},{"t":2625,"v":-3.2},{"t":2631,"v":-2.9},{"t":2644,"v":-3.4},{"t":2650,"v":-2.9},{"t":2656,"v":-3.4},{"t":2668,"v":-3.9},{"t":2675,"v":-3.4},{"t":2688,"v":-3.9},{"t":2694,"v":-4.4},{"t":2700,"v":-3.4},{"t":2706,"v":-2.9},{"t":2719,"v":-3.4},{"t":2725,"v":-2.9},{"t":2731,"v":-3.4},{"t":2737,"v":-2.9},{"t":2744,"v":-3.2},{"t":2756,"v":-2.9},{"t":2762,"v":-3.4},{"t":2769,"v":-2.9},{"t":2781,"v":-3.4},{"t":2787,"v":-3.9},{"t":2794,"v":-3.4},{"t":2800,"v":-3.9},{"t":2806,"v":-3.4},{"t":2819,"v":-2.9},{"t":2831,"v":-3.4},{"t":2837,"v":-3.9},{"t":2844,"v":-3.4},{"t":2850,"v":-3.8},{"t":2856,"v":-3.4},{"t":2862,"v":-2.9},{"t":2869,"v":-3.4},{"t":2875,"v":-3.9},{"t":2881,"v":-4.05},{"t":2887,"v":-3.4},{"t":2894,"v":-3.8},{"t":2900,"v":-3.3},{"t":2912,"v":-3.8},{"t":2919,"v":-3.3},{"t":2925,"v":-2.9},{"t":2937,"v":-3.4},{"t":2944,"v":-2.9},{"t":2950,"v":-3.55},{"t":2969,"v":-3.0},{"t":2975,"v":-3.55},{"t":2981,"v":-4.4},{"t":2992,"v":-2.5},{"t":3000,"v":-1.4},{"t":3006,"v":-0.7},{"t":3018,"v":-1.4},{"t":3025,"v":-0.8},{"t":3031,"v":-1.4},{"t":3044,"v":-0.8},{"t":3050,"v":-1.9},{"t":3056,"v":-1.4},{"t":3062,"v":-1.9},{"t":3068,"v":-0.8},{"t":3081,"v":-1.2},{"t":3087,"v":-0.8},{"t":3094,"v":-1.2},{"t":3100,"v":-0.8},{"t":3106,"v":-1.2},{"t":3112,"v":-0.8},{"t":3118,"v":-1.2},{"t":3131,"v":-0.8},{"t":3144,"v":-1.2},{"t":3150,"v":-0.8},{"t":3162,"v":-0.9},{"t":3175,"v":-0.4},{"t":3181,"v":-0.9},{"t":3194,"v":-0.4},{"t":3200,"v":-0.05},{"t":3219,"v":0.2},{"t":3225,"v":-0.4},{"t":3231,"v":0.2},{"t":3244,"v":-0.4},{"t":3250,"v":0.2},{"t":3256,"v":-0.4},{"t":3269,"v":-0.05},{"t":3275,"v":-0.4},{"t":3281,"v":-0.05},{"t":3287,"v":0.2},{"t":3294,"v":-0.55},{"t":3302,"v":-0.55}
]
},
"vconcat": [
{
  "width": 813, "height": 201,
  "title": {"text": "Pos. : SPAN & NAV4X0", "fontSize": 16.5, "fontWeight": "normal", "font": "Liberation Sans", "anchor": "middle", "frame": "group", "offset": 4, "color": "black"},
  "resolve": {"axis": {"x": "independent", "y": "independent"}},
  "layer": [
    {"data": {"name": "eastSpan"}, "mark": {"type": "line", "strokeWidth": 1},
     "encoding": {
       "x": {"field": "t", "type": "quantitative", "scale": {"domain": [240, 3303], "nice": false, "zero": false}, "axis": {"values": [500, 1000, 1500, 2000, 2500, 3000], "title": null, "labelPadding": 9}},
       "y": {"field": "v", "type": "quantitative", "scale": {"domain": [-10, 15], "nice": false, "zero": false}, "axis": {"values": [-10, -5, 0, 5, 10, 15], "title": "East [m]", "labelPadding": 12, "titlePadding": 6}},
       "color": {"datum": "SPAN", "type": "nominal", "scale": {"domain": ["SPAN", "NAV4X0"], "range": ["#0000ff", "#ff0000"]},
         "legend": {"orient": "bottom-right", "offset": 7, "title": null, "fillColor": "white", "strokeColor": "black", "padding": 2, "symbolOffset": 6, "labelFontSize": 19, "labelFont": "Liberation Sans", "labelColor": "black", "symbolType": "stroke", "symbolSize": 1444, "symbolStrokeWidth": 1, "rowPadding": -15, "labelOffset": 7}}
     }},
    {"data": {"name": "eastNav"}, "mark": {"type": "line", "strokeWidth": 1, "interpolate": "step-after"},
     "encoding": {
       "x": {"field": "t", "type": "quantitative", "axis": {"orient": "top", "values": [500, 1000, 1500, 2000, 2500, 3000], "labels": false, "title": null}},
       "y": {"field": "v", "type": "quantitative", "axis": {"orient": "right", "values": [-10, -5, 0, 5, 10, 15], "labels": false, "title": null}},
       "color": {"datum": "NAV4X0", "type": "nominal"}
     }},
    {"data": {"values": [{"t": 2590, "v": 0.61}]},
     "mark": {"type": "point", "shape": "M 1 0 C 1 0.2066 0.5523 0.374 0 0.374 C -0.5523 0.374 -1 0.2066 -1 0 C -1 -0.2066 -0.5523 -0.374 0 -0.374 C 0.5523 -0.374 1 -0.2066 1 0 Z", "size": 41000, "filled": false, "stroke": "#7d4a44", "strokeWidth": 3.2, "opacity": 1},
     "encoding": {"x": {"field": "t", "type": "quantitative", "axis": null}, "y": {"field": "v", "type": "quantitative", "axis": null}}},
    {"data": {"values": [{"t": 2789, "v": 9.07, "t2": 2734, "v2": 6.42}]},
     "mark": {"type": "rule", "stroke": "#5b8ec6", "strokeWidth": 3},
     "encoding": {"x": {"field": "t", "type": "quantitative", "axis": null}, "y": {"field": "v", "type": "quantitative", "axis": null}, "x2": {"field": "t2"}, "y2": {"field": "v2"}}},
    {"data": {"values": [{"t": 2734, "v": 6.42}]},
     "mark": {"type": "point", "shape": "triangle-up", "size": 160, "filled": true, "fill": "#5b8ec6", "opacity": 1, "angle": 214},
     "encoding": {"x": {"field": "t", "type": "quantitative", "axis": null}, "y": {"field": "v", "type": "quantitative", "axis": null}}},
    {"data": {"values": [{"t": 2318, "t2": 3260, "v": 13.63, "v2": 9.15}]},
     "mark": {"type": "rect", "fill": "white", "stroke": "#7da7cf", "strokeWidth": 1.5},
     "encoding": {"x": {"field": "t", "type": "quantitative", "axis": null}, "x2": {"field": "t2"}, "y": {"field": "v", "type": "quantitative", "axis": null}, "y2": {"field": "v2"}}},
    {"data": {"values": [{"t": 2789, "v": 11.4, "label": "Ground Idle. (정지 구간)"}]},
     "mark": {"type": "text", "font": "Noto Sans CJK KR", "fontSize": 21, "color": "#3d3330", "align": "center", "baseline": "middle"},
     "encoding": {"x": {"field": "t", "type": "quantitative", "axis": null}, "y": {"field": "v", "type": "quantitative", "axis": null}, "text": {"field": "label"}}}
  ]
},
{
  "width": 813, "height": 200,
  "resolve": {"axis": {"x": "independent", "y": "independent"}},
  "layer": [
    {"data": {"name": "northSpan"}, "mark": {"type": "line", "strokeWidth": 1},
     "encoding": {
       "x": {"field": "t", "type": "quantitative", "scale": {"domain": [240, 3303], "nice": false, "zero": false}, "axis": {"values": [500, 1000, 1500, 2000, 2500, 3000], "title": "Time [sec]", "labelPadding": 9, "titlePadding": 5}},
       "y": {"field": "v", "type": "quantitative", "scale": {"domain": [-10, 5], "nice": false, "zero": false}, "axis": {"values": [-10, -5, 0, 5], "title": "North [m]", "labelPadding": 12, "titlePadding": 6}},
       "color": {"datum": "SPAN", "type": "nominal", "scale": {"domain": ["SPAN", "NAV4X0"], "range": ["#0000ff", "#ff0000"]},
         "legend": {"orient": "top-right", "offset": 7, "title": null, "fillColor": "white", "strokeColor": "black", "padding": 2, "symbolOffset": 6, "labelFontSize": 19, "labelFont": "Liberation Sans", "labelColor": "black", "symbolType": "stroke", "symbolSize": 1444, "symbolStrokeWidth": 1, "rowPadding": -15, "labelOffset": 7}}
     }},
    {"data": {"name": "northNav"}, "mark": {"type": "line", "strokeWidth": 1, "interpolate": "step-after"},
     "encoding": {
       "x": {"field": "t", "type": "quantitative", "axis": {"orient": "top", "values": [500, 1000, 1500, 2000, 2500, 3000], "labels": false, "title": null}},
       "y": {"field": "v", "type": "quantitative", "axis": {"orient": "right", "values": [-10, -5, 0, 5], "labels": false, "title": null}},
       "color": {"datum": "NAV4X0", "type": "nominal"}
     }},
    {"data": {"values": [{"t": 2590, "v": -2.5}]},
     "mark": {"type": "point", "shape": "M 1 0 C 1 0.2066 0.5523 0.374 0 0.374 C -0.5523 0.374 -1 0.2066 -1 0 C -1 -0.2066 -0.5523 -0.374 0 -0.374 C 0.5523 -0.374 1 -0.2066 1 0 Z", "size": 41000, "filled": false, "stroke": "#7d4a44", "strokeWidth": 3.2, "opacity": 1},
     "encoding": {"x": {"field": "t", "type": "quantitative", "axis": null}, "y": {"field": "v", "type": "quantitative", "axis": null}}}
  ]
}
]
}
